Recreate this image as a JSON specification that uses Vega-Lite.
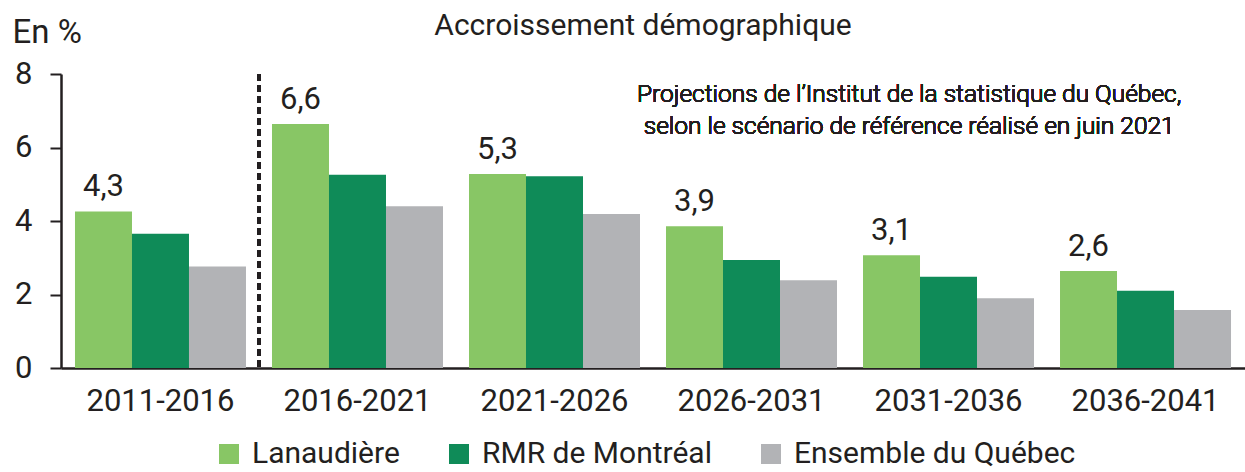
{
  "$schema": "https://vega.github.io/schema/vega-lite/v6.json",
  "width": 1184,
  "height": 294,
  "autosize": "none",
  "padding": {"left": 61, "top": 74, "right": 0, "bottom": 104},
  "background": "white",
  "title": {"text": "Accroissement démographique", "fontSize": 30, "fontWeight": "normal", "font": "Roboto", "color": "#231f20", "anchor": "middle", "dx": -10, "offset": -49, "baseline": "alphabetic"},
  "config": {
    "view": {"stroke": null},
    "font": "Roboto",
    "locale": {"number": {"decimal": ",", "thousands": " ", "grouping": [3], "currency": ["", " $"]}}
  },
  "data": {"values": [
    {"period": "2011-2016", "series": "Lanaudière", "value": 4.26},
    {"period": "2011-2016", "series": "RMR de Montréal", "value": 3.65},
    {"period": "2011-2016", "series": "Ensemble du Québec", "value": 2.76},
    {"period": "2016-2021", "series": "Lanaudière", "value": 6.64},
    {"period": "2016-2021", "series": "RMR de Montréal", "value": 5.26},
    {"period": "2016-2021", "series": "Ensemble du Québec", "value": 4.40},
    {"period": "2021-2026", "series": "Lanaudière", "value": 5.28},
    {"period": "2021-2026", "series": "RMR de Montréal", "value": 5.22},
    {"period": "2021-2026", "series": "Ensemble du Québec", "value": 4.19},
    {"period": "2026-2031", "series": "Lanaudière", "value": 3.86},
    {"period": "2026-2031", "series": "RMR de Montréal", "value": 2.94},
    {"period": "2026-2031", "series": "Ensemble du Québec", "value": 2.39},
    {"period": "2031-2036", "series": "Lanaudière", "value": 3.07},
    {"period": "2031-2036", "series": "RMR de Montréal", "value": 2.48},
    {"period": "2031-2036", "series": "Ensemble du Québec", "value": 1.90},
    {"period": "2036-2041", "series": "Lanaudière", "value": 2.64},
    {"period": "2036-2041", "series": "RMR de Montréal", "value": 2.10},
    {"period": "2036-2041", "series": "Ensemble du Québec", "value": 1.58}
  ]},
  "encoding": {
    "x": {"field": "period", "type": "nominal", "sort": null,
      "scale": {"paddingInner": 0.132, "paddingOuter": 0.071},
      "axis": {"title": null, "labelAngle": 0, "labelFontSize": 31, "labelColor": "#231f20", "labelPadding": 18, "ticks": false, "domainColor": "#231f20", "domainWidth": 2.5}},
    "y": {"field": "value", "type": "quantitative",
      "scale": {"domain": [0, 8], "nice": false},
      "axis": {"values": [0, 2, 4, 6, 8], "grid": false, "labelFontSize": 31, "labelColor": "#231f20", "labelPadding": 18, "tickSize": 11, "tickWidth": 2, "tickColor": "#231f20", "domainColor": "#231f20", "domainWidth": 2.5,
        "title": "En %", "titleAngle": 0, "titleX": -49, "titleY": -32, "titleAlign": "left", "titleBaseline": "alphabetic", "titleFontSize": 33, "titleFontWeight": "normal", "titleColor": "#231f20"}}
  },
  "layer": [
    {
      "mark": {"type": "bar"},
      "encoding": {
        "xOffset": {"field": "series", "type": "nominal", "sort": ["Lanaudière", "RMR de Montréal", "Ensemble du Québec"], "scale": {"paddingInner": 0, "paddingOuter": 0}},
        "color": {"field": "series", "type": "nominal",
          "scale": {"domain": ["Lanaudière", "RMR de Montréal", "Ensemble du Québec"], "range": ["#88c665", "#0f8b58", "#b2b3b6"]},
          "legend": {"title": null, "orient": "none", "direction": "horizontal", "legendX": 153, "legendY": 365, "symbolType": "square", "symbolSize": 400, "symbolStrokeWidth": 0, "labelFontSize": 30, "labelLimit": 0, "labelColor": "#231f20", "columnPadding": 44, "labelOffset": 8}}
      }
    },
    {
      "transform": [{"filter": "datum.series === 'Lanaudière'"}],
      "mark": {"type": "text", "fontSize": 31, "color": "#231f20", "baseline": "alphabetic", "dy": -15},
      "encoding": {
        "xOffset": {"datum": "Lanaudière", "type": "nominal", "sort": ["Lanaudière", "RMR de Montréal", "Ensemble du Québec"]},
        "text": {"field": "value", "type": "quantitative", "format": ".1f"}
      }
    },
    {
      "mark": {"type": "rule", "strokeDash": [7, 4], "strokeWidth": 3, "color": "#231f20"},
      "encoding": {
        "x": {"datum": "2016-2021", "type": "nominal", "bandPosition": -0.076},
        "y": {"datum": 8},
        "y2": {"datum": 0}
      }
    },
    {
      "mark": {"type": "text", "fontSize": 24.5, "fontWeight": 300, "color": "#231f20", "align": "center", "baseline": "top", "lineHeight": 32,
        "text": ["Projections de l’Institut de la statistique du Québec,", " selon  le scénario de référence réalisé en juin 2021"]},
      "encoding": {
        "x": {"datum": "2031-2036", "type": "nominal", "bandPosition": 0.27},
        "y": {"datum": 7.76}
      }
    }
  ]
}
